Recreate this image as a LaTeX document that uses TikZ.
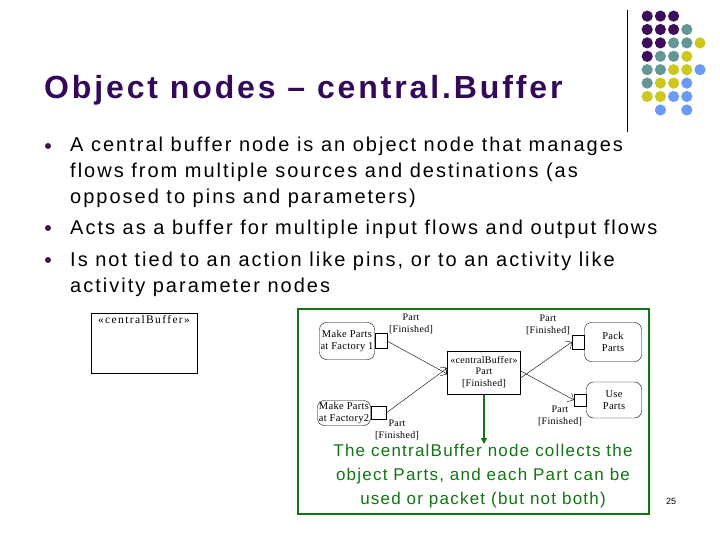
\documentclass[tikz,border=0pt]{standalone}
\usepackage{fontspec}
\setmainfont{Liberation Sans}
\newfontfamily\umlfont[LetterSpace=3]{Liberation Serif}
\newfontfamily\umlwide[LetterSpace=12]{Liberation Serif}
\newfontfamily\wideA[LetterSpace=10]{Liberation Sans}
\newfontfamily\wideT[LetterSpace=9]{Liberation Sans}
\newfontfamily\wideG[LetterSpace=7.2]{Liberation Sans}
\usetikzlibrary{arrows.meta}
\definecolor{titlepurple}{RGB}{51,10,90}
\definecolor{P}{RGB}{60,15,90}
\definecolor{T}{RGB}{100,150,150}
\definecolor{Y}{RGB}{205,200,30}
\definecolor{B}{RGB}{105,155,245}
\definecolor{framegreen}{RGB}{20,115,20}
\tikzset{
  x=1pt, y=-1pt,
  bullettext/.style={anchor=base west, font=\wideA\fontsize{20}{24}\selectfont, inner sep=0pt},
  action/.style={draw, rounded corners=7pt, font=\umlfont\fontsize{10.5}{12}\selectfont, align=center, inner sep=0pt},
  umllabel/.style={font=\umlfont\fontsize{10}{11.5}\selectfont, align=center, inner sep=0pt},
  flow/.style={->, >={Straight Barb[length=5pt]}, thin}
}
\begin{document}
\begin{tikzpicture}
  \useasboundingbox (0,0) rectangle (720,540);
  % title and bullets
  \node[anchor=base west, inner sep=0pt, text=titlepurple, font=\wideT\bfseries\fontsize{32}{36}\selectfont] (title) at (44,99) {Object nodes – central.Buffer};
  \foreach \yb in {152,234,266} {
    \fill[P] (48,\yb-6) circle (3);
  }
  \node[bullettext] (b1) at (70,152) {A central buffer node is an object node that manages};
  \node[bullettext] (b1b) at (70,178) {flows from multiple sources and destinations (as};
  \node[bullettext] (b1c) at (70,204) {opposed to pins and parameters)};
  \node[bullettext] (b2) at (70,234) {Acts as a buffer for multiple input flows and output flows};
  \node[bullettext] (b3) at (70,266) {Is not tied to an action like pins, or to an activity like};
  \node[bullettext] (b3b) at (70,292) {activity parameter nodes};
  % dots in the corner
  \draw (627,10) -- (627,132);
  \foreach \row/\cols in {1/{P,P,P},2/{P,P,P,T},3/{P,P,T,T,Y},4/{P,T,T,Y},5/{T,T,Y,Y,B},6/{T,Y,Y,B},7/{Y,Y,B,B}} {
    \foreach[count=\c] \k in \cols {
      \fill[\k] (634+13.2*\c,2.7+13.4*\row) circle (5.6);
    }
  }
  \fill[B] (660.4,110) circle (5.6);
  \fill[B] (686.8,110) circle (5.6);
  % stand-alone central buffer
  \draw[thick] (91,313) rectangle (197,373);
  \node[inner sep=0pt, anchor=north, font=\umlwide\fontsize{11.5}{12}\selectfont] (cbsmall) at (144,315) {«centralBuffer»};
  % example diagram
  \draw[framegreen, line width=2.5pt] (298,309) rectangle (649,514);
  \node[action, minimum width=55pt, minimum height=37pt] (fact1) at (347,341) {Make Parts\\at Factory 1};
  \node[action, minimum width=53pt, minimum height=25pt] (fact2) at (344,413) {Make Parts\\at Factory2};
  \node[draw, minimum width=73pt, minimum height=43pt] (cbuf) at (484,373) {};
  \node[umllabel] (cbtext) at (484,372) {«centralBuffer»\\Part\\{[Finished]}};
  \node[action, minimum width=57pt, minimum height=39pt] (pack) at (613,342) {Pack\\Parts};
  \node[action, minimum width=55pt, minimum height=36pt] (use) at (614,400) {Use\\Parts};
  \node[draw, minimum width=12pt, minimum height=15pt, inner sep=0pt, anchor=west] (pin1) at (fact1.east) {};
  \node[draw, minimum width=15pt, minimum height=13pt, inner sep=0pt, anchor=west] (pin2) at (fact2.east) {};
  \node[draw, minimum width=12pt, minimum height=14pt, inner sep=0pt, anchor=east] (pin3) at (pack.west) {};
  \node[draw, minimum width=12pt, minimum height=12pt, inner sep=0pt, anchor=east] (pin4) at (use.west) {};
  \node[umllabel] (l1) at (411,324) {Part\\{[Finished]}};
  \node[umllabel] (l2) at (397,430) {Part\\{[Finished]}};
  \node[umllabel] (l3) at (548,325) {Part\\{[Finished]}};
  \node[umllabel] (l4) at (560,416) {Part\\{[Finished]}};
  \draw[flow] (pin1.east) -- ([yshift=-1pt]cbuf.west);
  \draw[flow] (pin2.east) -- ([yshift=5pt]cbuf.west);
  \draw[flow] ([yshift=-5pt]cbuf.east) -- (pin3.west);
  \draw[flow] ([yshift=2pt]cbuf.east) -- (pin4.west);
  \coordinate (note) at (484,444);
  \draw[framegreen, line width=1.5pt, -{Triangle[length=6pt,width=6pt]}] (cbuf.south) -- (note);
  \node[text=framegreen, align=center, font=\wideG\fontsize{17}{24}\selectfont, anchor=north] (notetext) at (483,441) {The centralBuffer node collects the\\object Parts, and each Part can be\\used or packet (but not both)};
  \node[font=\fontsize{9}{10}\selectfont] (pagenum) at (671,501) {25};
\end{tikzpicture}
\end{document}
